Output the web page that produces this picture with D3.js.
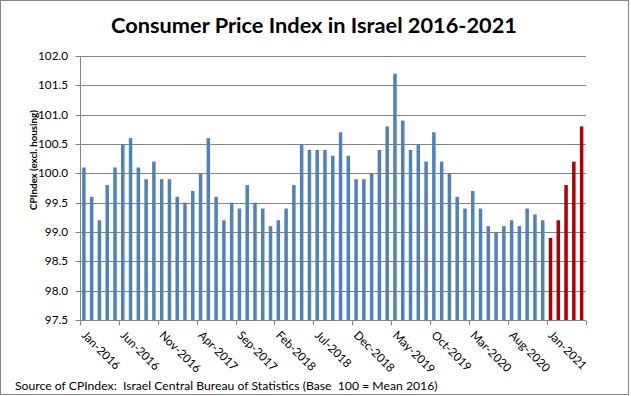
<!DOCTYPE html>
<html><head><meta charset="utf-8">
<script src="https://cdn.jsdelivr.net/npm/d3@7"></script>
<style>
body{margin:0;background:#fff}
svg{display:block}
text{font-family:Lato,'Open Sans',sans-serif;fill:#000}
</style>
</head><body>
<svg id="chart" width="631" height="396"></svg>
<script>
// ---- data ----
const monthNames = ["Jan","Feb","Mar","Apr","May","Jun","Jul","Aug","Sep","Oct","Nov","Dec"];
const years = [2016, 2017, 2018, 2019, 2020, 2021];
const cpi2016 = [100.1, 99.6, 99.2, 99.8, 100.1, 100.5, 100.6, 100.1, 99.9, 100.2, 99.9, 99.9];
const cpi2017 = [99.6, 99.5, 99.7, 100.0, 100.6, 99.6, 99.2, 99.5, 99.4, 99.8, 99.5, 99.4];
const cpi2018 = [99.1, 99.2, 99.4, 99.8, 100.5, 100.4, 100.4, 100.4, 100.3, 100.7, 100.3, 99.9];
const cpi2019 = [99.9, 100.0, 100.4, 100.8, 101.7, 100.9, 100.4, 100.5, 100.2, 100.7, 100.2, 100.0];
const cpi2020 = [99.6, 99.4, 99.7, 99.4, 99.1, 99.0, 99.1, 99.2, 99.1, 99.4, 99.3, 99.2];
const cpi2021 = [98.9, 99.2, 99.8, 100.2, 100.8];
const xTickLabels = ["Jan-2016","Jun-2016","Nov-2016","Apr-2017","Sep-2017","Feb-2018","Jul-2018","Dec-2018","May-2019","Oct-2019","Mar-2020","Aug-2020","Jan-2021"];
const yTicks = [97.5, 98.0, 98.5, 99.0, 99.5, 100.0, 100.5, 101.0, 101.5, 102.0];
const highlightYear = 2021;
const titleText = "Consumer Price Index in Israel 2016-2021";
const yTitleText = "CPIndex (excl. housing)";
const sourceText = "Source of CPIndex:  Israel Central Bureau of Statistics (Base  100 = Mean 2016)";

// ---- build rows ----
const seriesByYear = [cpi2016, cpi2017, cpi2018, cpi2019, cpi2020, cpi2021];
const rows = [];
years.forEach((yr, i) => {
  seriesByYear[i].forEach((v, m) => rows.push({cat: monthNames[m] + "-" + yr, year: yr, value: v}));
});
const categories = rows.map(d => d.cat);

// ---- layout ----
const L = 80, R = 585.5, T = 56, B = 320;
const svg = d3.select("#chart");
const blue = "#4F81BD", red = "#B00000", gridC = "#868686";

svg.append("rect").attr("x", 0.5).attr("y", 0.5).attr("width", 628).attr("height", 394)
  .attr("fill", "#fff").attr("stroke", gridC).attr("stroke-width", 1);

const x = d3.scaleBand().domain(categories).range([L, R]).paddingInner(0.55).paddingOuter(0.275);
const y = d3.scaleLinear().domain([97.5, 102.0]).range([B, T]);

function fit(sel, target) {
  const w = sel.node().getComputedTextLength();
  const fs = parseFloat(sel.attr("font-size"));
  sel.attr("font-size", fs * target / w);
  return fs * target / w;
}

// gridlines
svg.append("g").selectAll("line").data(yTicks).join("line")
  .attr("x1", L - 4.5).attr("x2", R + 0.5)
  .attr("y1", d => Math.round(y(d)) + 0.5).attr("y2", d => Math.round(y(d)) + 0.5)
  .attr("stroke", gridC).attr("stroke-width", 1);

// bars
svg.append("g").selectAll("rect").data(rows).join("rect")
  .attr("x", d => x(d.cat)).attr("width", x.bandwidth())
  .attr("y", d => y(d.value)).attr("height", d => y(97.5) - y(d.value))
  .attr("fill", d => d.year === highlightYear ? red : blue);

// axes lines
svg.append("line").attr("x1", L + 0.5).attr("x2", L + 0.5).attr("y1", T).attr("y2", Math.round(B) + 0.5)
  .attr("stroke", gridC);
svg.append("line").attr("x1", L).attr("x2", R + 0.5).attr("y1", Math.round(B) + 0.5).attr("y2", Math.round(B) + 0.5)
  .attr("stroke", gridC);

// x tick marks at every 5th category boundary
const step = x.step();
const gapHalf = (step - x.bandwidth()) / 2;
const tickIdx = d3.range(0, categories.length + 1, 5);
svg.append("g").selectAll("line").data(tickIdx).join("line")
  .attr("x1", i => Math.round(i < categories.length ? x(categories[i]) - gapHalf : R) + 0.5)
  .attr("x2", i => Math.round(i < categories.length ? x(categories[i]) - gapHalf : R) + 0.5)
  .attr("y1", Math.round(B) + 0.5).attr("y2", Math.round(B) + 5)
  .attr("stroke", gridC);

// y tick labels
const probe = svg.append("text").attr("font-size", 12).text("102.0");
const tickFs = fit(probe, 30);
probe.remove();
svg.append("g").selectAll("text").data(yTicks).join("text")
  .attr("x", 68).attr("y", d => y(d)).attr("dy", "0.35em")
  .attr("text-anchor", "end").attr("font-size", tickFs)
  .text(d => d3.format(".1f")(d));

// x labels
svg.append("g").selectAll("text").data(xTickLabels).join("text")
  .attr("transform", d => `translate(${x(d) + x.bandwidth() / 2 - 3},${336}) rotate(45)`)
  .attr("text-anchor", "start").attr("font-size", tickFs)
  .text(d => d);

// title
const title = svg.append("text").attr("x", 314).attr("y", 33).attr("text-anchor", "middle")
  .attr("font-weight", "bold").attr("font-size", 20).text(titleText);
fit(title, 406);

// y title
const yt = svg.append("text").attr("transform", "translate(37,160) rotate(-90)")
  .attr("text-anchor", "middle").attr("font-weight", "bold").attr("font-size", 10).text(yTitleText);
fit(yt, 100);

// source
const src = svg.append("text").attr("x", 15).attr("y", 390).attr("font-size", 12)
  .style("white-space", "pre").text(sourceText);
fit(src, 423);
</script>
</body></html>
